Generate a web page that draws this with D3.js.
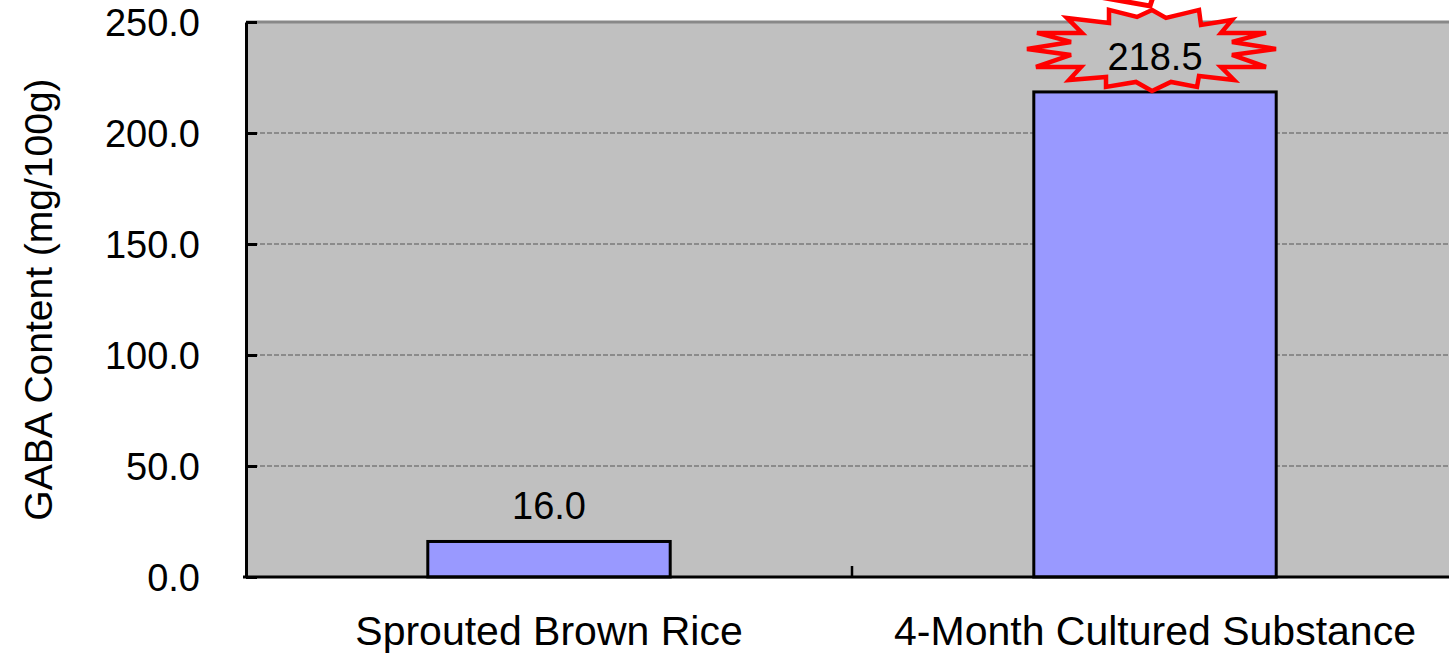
<!DOCTYPE html>
<html>
<head>
<meta charset="utf-8">
<script src="https://cdn.jsdelivr.net/npm/d3@7"></script>
<style>
  html, body { margin: 0; padding: 0; background: #fff; }
  svg { display: block; }
  text { font-family: "Liberation Sans", Arial, sans-serif; fill: #000; }
</style>
</head>
<body>
<svg id="chart" width="1449" height="655"></svg>
<script>
// GABA content per sample
const categories = ["Sprouted Brown Rice", "4-Month Cultured Substance"];
const gabaValues = [16.0, 218.5];
const yTicks = [0, 50, 100, 150, 200, 250];
const yTitle = "GABA Content (mg/100g)";
// index of the value highlighted with a burst callout
const highlightIndex = 1;

const svg = d3.select("#chart");
const W = 1449, H = 655;
const plot = { left: 246, top: 22, right: 1458, bottom: 577 };

const y = d3.scaleLinear().domain([0, 250]).range([plot.bottom, plot.top]);
const x = d3.scaleBand().domain(categories).range([plot.left, plot.right]).padding(0);
const barW = x.bandwidth() * 0.4;

// plot background
svg.append("rect")
  .attr("x", plot.left).attr("y", plot.top)
  .attr("width", plot.right - plot.left).attr("height", plot.bottom - plot.top)
  .attr("fill", "#c0c0c0");

// horizontal gridlines
svg.append("g").selectAll("line")
  .data(yTicks.filter(t => t > 0 && t < 250))
  .join("line")
  .attr("x1", plot.left).attr("x2", plot.right)
  .attr("y1", d => y(d)).attr("y2", d => y(d))
  .attr("stroke", "#7a7a7a").attr("stroke-width", 1.3)
  .attr("stroke-dasharray", "5,2");

// top border of the plot area
svg.append("line")
  .attr("x1", plot.left).attr("x2", plot.right)
  .attr("y1", y(250)).attr("y2", y(250))
  .attr("stroke", "#888").attr("stroke-width", 3);

// bars
svg.append("g").selectAll("rect")
  .data(gabaValues)
  .join("rect")
  .attr("x", (d, i) => x(categories[i]) + (x.bandwidth() - barW) / 2)
  .attr("y", d => y(d))
  .attr("width", barW)
  .attr("height", d => y(0) - y(d))
  .attr("fill", "#9999ff")
  .attr("stroke", "#000").attr("stroke-width", 3);

// burst callout around the highlighted value label
const hx = x(categories[highlightIndex]) + x.bandwidth() / 2 - 3;
const hy = y(gabaValues[highlightIndex]) - 43;
const burst = [
  [0,-39],[14,-31],[47,-39],[49,-24],[80,-29],[69,-16],[114,-16],[80,-7],
  [124,0],[80,6],[114,18],[69,18],[82,31],[47,27],[45,38],[19,33],
  [0,42],[-16,33],[-46,38],[-46,28],[-83,31],[-71,18],[-116,18],[-81,6],
  [-125,0],[-81,-7],[-115,-16],[-70,-16],[-85,-31],[-43,-26],[-43,-39],[-15,-32]
];
const tail = [[-53,-52],[-2,-43],[3,-58]];
svg.append("polygon")
  .attr("points", burst.map(p => [hx + p[0], hy + p[1]].join(",")).join(" "))
  .attr("fill", "#c0c0c0")
  .attr("stroke", "#ff0000").attr("stroke-width", 4.5)
  .attr("stroke-linejoin", "miter");
svg.append("polyline")
  .attr("points", tail.map(p => [hx + p[0], hy + p[1]].join(",")).join(" "))
  .attr("fill", "none")
  .attr("stroke", "#ff0000").attr("stroke-width", 5);

// value labels
svg.append("g").selectAll("text")
  .data(gabaValues)
  .join("text")
  .attr("x", (d, i) => x(categories[i]) + x.bandwidth() / 2)
  .attr("y", d => y(d) - 22)
  .attr("text-anchor", "middle")
  .attr("font-size", 38)
  .text(d => d3.format(".1f")(d));

// y axis
const yAxis = d3.axisLeft(y).tickValues(yTicks).tickFormat(d3.format(".1f"))
  .tickSizeInner(-11).tickSizeOuter(0).tickPadding(46);
const gy = svg.append("g").attr("transform", `translate(${plot.left},0)`).call(yAxis);
gy.select(".domain").attr("stroke", "#000").attr("stroke-width", 3);
gy.selectAll(".tick line").attr("stroke", "#000").attr("stroke-width", 3);
gy.selectAll(".tick text")
  .attr("font-size", 38)
  .attr("font-family", "Liberation Sans, Arial, sans-serif")
  .attr("fill", "#000")
  .attr("dy", "0.36em");

// x axis
const gx = svg.append("g").attr("transform", `translate(0,${plot.bottom})`);
gx.append("line")
  .attr("x1", plot.left - 3).attr("x2", W)
  .attr("y1", 0).attr("y2", 0)
  .attr("stroke", "#000").attr("stroke-width", 3);
gx.selectAll("line.sep")
  .data(categories.slice(1))
  .join("line")
  .attr("class", "sep")
  .attr("x1", d => x(d)).attr("x2", d => x(d))
  .attr("y1", 0).attr("y2", -11)
  .attr("stroke", "#000").attr("stroke-width", 2.5);
gx.selectAll("text")
  .data(categories)
  .join("text")
  .attr("x", d => x(d) + x.bandwidth() / 2)
  .attr("y", 68)
  .attr("text-anchor", "middle")
  .attr("font-size", 41)
  .text(d => d);

// y axis title
svg.append("text")
  .attr("transform", `translate(52,${(plot.top + plot.bottom) / 2}) rotate(-90)`)
  .attr("text-anchor", "middle")
  .attr("font-size", 39)
  .text(yTitle);
</script>
</body>
</html>
